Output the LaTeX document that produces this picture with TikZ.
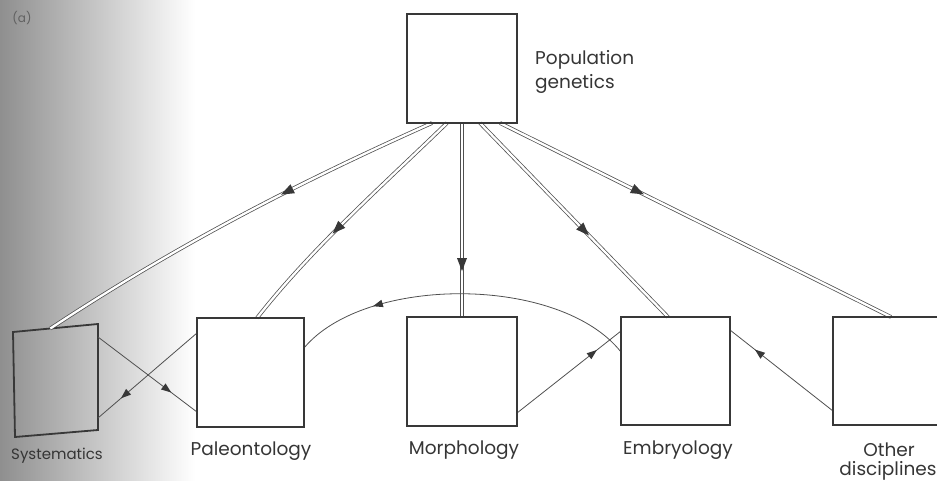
\documentclass[tikz,border=0pt]{standalone}
\usepackage{fontspec}
\setmainfont{Poppins}
\usetikzlibrary{calc,decorations.markings}
\definecolor{ink}{HTML}{383838}
\definecolor{lnk}{HTML}{505050}
\definecolor{txt}{HTML}{353535}
\begin{document}
\begin{tikzpicture}[x=1pt,y=-1pt,
  bx/.style={draw=ink, line width=1.8pt, inner sep=0pt, outer sep=0pt, minimum width=#1, minimum height=109pt},
  bx/.default=109pt,
  dbl/.style={draw=lnk, line width=0.75pt, double=white, double distance=2.3pt},
  sl/.style={draw=lnk, line width=0.8pt},
  mkd/.style={postaction={decorate, decoration={markings, mark=at position #1 with {\fill[ink] (6.5pt,0pt) -- (-6.5pt,5pt) -- (-6.5pt,-5pt) -- cycle;}}}},
  mks/.style={postaction={decorate, decoration={markings, mark=at position #1 with {\fill[ink] (5pt,0pt) -- (-5pt,3.8pt) -- (-5pt,-3.8pt) -- cycle;}}}},
  lbl/.style={inner sep=0pt, text=txt, font=\fontsize{18.5}{22}\selectfont},
  slbl/.style={inner sep=0pt, text=txt, font=\fontsize{15}{18}\selectfont}
]
\useasboundingbox (0,0) rectangle (937,481);
\shade[left color=black!44, middle color=black!22, right color=white] (0,0) rectangle (195,481);

% boxes
\node[bx=110pt] (pg) at (462,68.5) {};
\node[bx=107pt] (pal) at (250.5,372.5) {};
\node[bx=110pt] (mor) at (462,371.5) {};
\node[bx=109pt, minimum height=108pt] (emb) at (675.5,371) {};
\node[bx=109pt, minimum height=108pt] (oth) at (887.5,371) {};
\coordinate (sa) at (13,332);
\coordinate (sb) at (98,324);
\coordinate (sc) at (98,430);
\coordinate (sd) at (15,437);
\draw[ink, line width=1.8pt, line join=miter] (sa) -- (sb) -- (sc) -- (sd) -- cycle;

% double connectors from population genetics
\draw[dbl, mkd=0.37] ($(pg.south west)+(25,0)$) .. controls (302,181) and (180,243) .. ($(sa)!0.44!(sb)$);
\draw[dbl, mkd=0.56] ($(pg.south west)+(40,0)$) .. controls (382,186) and (312,248) .. ($(pal.north west)+(60,0)$);
\draw[dbl, mkd=0.73] (pg.south) -- (mor.north);
\draw[dbl, mkd=0.555] ($(pg.south west)+(73,0)$) -- ($(emb.north west)+(47,0)$);
\draw[dbl, mkd=0.353] ($(pg.south west)+(93,0)$) -- ($(oth.north west)+(58,0)$);

% single connectors
\draw[sl, mks=0.7] ($(sb)+(0,13)$) -- ($(pal.north west)+(0,94)$);
\draw[sl, mks=0.73] ($(pal.north west)+(0,15)$) -- ($(sb)+(0,94)$);
\draw[sl, mks=0.75] ($(emb.north west)+(0,35)$) .. controls (560,275) and (365,275) .. ($(pal.north east)+(0,30)$);
\draw[sl, mks=0.73] ($(mor.north east)+(0,96)$) -- ($(emb.north west)+(0,14)$);
\draw[sl, mks=0.72] ($(oth.north west)+(0,94)$) -- ($(emb.north east)+(0,13)$);

% redraw boxes on top
\node[bx=110pt] at (pg) {};
\node[bx=107pt] at (pal) {};
\node[bx=110pt] at (mor) {};
\node[bx=109pt, minimum height=108pt] at (emb) {};
\node[bx=109pt, minimum height=108pt] at (oth) {};

% labels
\node[inner sep=0pt, text=black!62, font=\fontsize{12}{13}\selectfont] (tag) at (22,18) {(a)};
\node[lbl, anchor=base west] (tpg1) at (535,65) {Population};
\node[lbl, anchor=base west] (tpg2) at (535,89) {genetics};
\node[slbl, anchor=base] (tsys) at (57,459) {Systematics};
\node[lbl, anchor=base] (tpal) at (251,455) {Paleontology};
\node[lbl, anchor=base] (tmor) at (464,454) {Morphology};
\node[lbl, anchor=base] (temb) at (678,454) {Embryology};
\node[lbl, anchor=base] (toth) at (889,456) {Other};
\node[lbl, anchor=base] (tdis) at (888,475) {disciplines};
\end{tikzpicture}
\end{document}
